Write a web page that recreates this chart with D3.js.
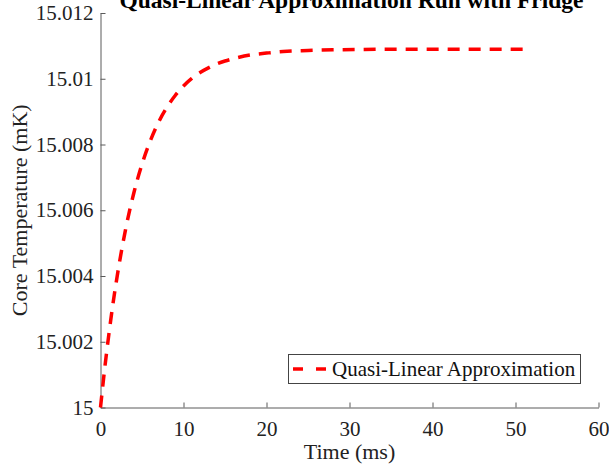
<!DOCTYPE html>
<html><head><meta charset="utf-8">
<script src="https://cdn.jsdelivr.net/npm/d3@7"></script>
<style>body{margin:0;background:#fff}svg{display:block}</style>
</head><body>
<svg id="c" width="609" height="464"></svg>
<script>
const timeMs = [0, 0.5, 1, 1.5, 2, 3, 4, 5, 6, 7, 8, 9, 10, 11, 12, 13, 14, 15, 16, 18, 20, 22, 25, 28, 31, 35, 40, 45, 51.5];
const coreTemp = [15.0000, 15.00117, 15.00221, 15.00315, 15.00398, 15.00539, 15.00651, 15.00740, 15.00811, 15.00868,
  15.00913, 15.00949, 15.00978, 15.01001, 15.01019, 15.01033, 15.01045, 15.01054, 15.01061, 15.01072,
  15.01078, 15.01083, 15.01086, 15.01088, 15.01089, 15.0109, 15.0109, 15.0109, 15.0109];
const xTicks = [0, 10, 20, 30, 40, 50, 60];
const yTicks = [15, 15.002, 15.004, 15.006, 15.008, 15.01, 15.012];
const yTickLabels = ["15", "15.002", "15.004", "15.006", "15.008", "15.01", "15.012"];
const seriesName = "Quasi-Linear Approximation";
const titleText = "Quasi-Linear Approximation Run with Fridge";

const svg = d3.select("#c");
const L = 100.5, R = 598.5, T = 13, B = 407.5;
const x = d3.scaleLinear().domain([0, 60]).range([L, R]);
const y = d3.scaleLinear().domain([15, 15.012]).range([B, T]);
const font = "'Liberation Serif','Times New Roman',serif";
const axisCol = "#5a5a5a";

// axes
const xa = svg.append("g").attr("transform", `translate(0,${B})`)
  .call(d3.axisBottom(x).tickValues(xTicks).tickSizeInner(-5).tickSizeOuter(0).tickPadding(10).tickFormat(d3.format("d")));
const ya = svg.append("g").attr("transform", `translate(${L},0)`)
  .call(d3.axisLeft(y).tickValues(yTicks).tickSizeInner(-5).tickSizeOuter(0).tickPadding(7).tickFormat((d, i) => yTickLabels[i]));
[xa, ya].forEach(g => {
  g.select(".domain").attr("stroke", axisCol).attr("stroke-width", 1);
  g.selectAll(".tick line").attr("stroke", axisCol);
  g.selectAll(".tick text").attr("fill", "#222").style("font-family", font).style("font-size", "21px");
});
xa.selectAll(".tick text").attr("dy", "0.9em");

// curve
const line = d3.line().x((d, i) => x(timeMs[i])).y(d => y(d)).curve(d3.curveMonotoneX);
svg.append("path").datum(coreTemp).attr("d", line)
  .attr("fill", "none").attr("stroke", "#ff0000").attr("stroke-width", 3.5)
  .attr("stroke-dasharray", "12,9");

// title
svg.append("text").attr("x", (L + R) / 2 + 2).attr("y", 8).attr("text-anchor", "middle")
  .style("font-family", font).style("font-size", "23.5px").style("font-weight", "bold").attr("fill", "#000")
  .text(titleText);

// axis labels
svg.append("text").attr("x", (L + R) / 2).attr("y", 459).attr("text-anchor", "middle")
  .style("font-family", font).style("font-size", "22px").attr("fill", "#222").text("Time (ms)");
svg.append("text").attr("transform", `translate(27,${(T + B) / 2}) rotate(-90)`).attr("text-anchor", "middle")
  .style("font-family", font).style("font-size", "22px").attr("fill", "#222").text("Core Temperature (mK)");

// legend
const lg = svg.append("g");
lg.append("rect").attr("x", 288.5).attr("y", 354.5).attr("width", 292).attr("height", 29)
  .attr("fill", "#fff").attr("stroke", "#444").attr("stroke-width", 1);
lg.append("line").attr("x1", 293).attr("x2", 327).attr("y1", 369).attr("y2", 369)
  .attr("stroke", "#ff0000").attr("stroke-width", 3.5).attr("stroke-dasharray", "10,13");
lg.append("text").attr("x", 332).attr("y", 376).style("font-family", font).style("font-size", "21px")
  .attr("fill", "#111").text(seriesName);
</script>
</body></html>
